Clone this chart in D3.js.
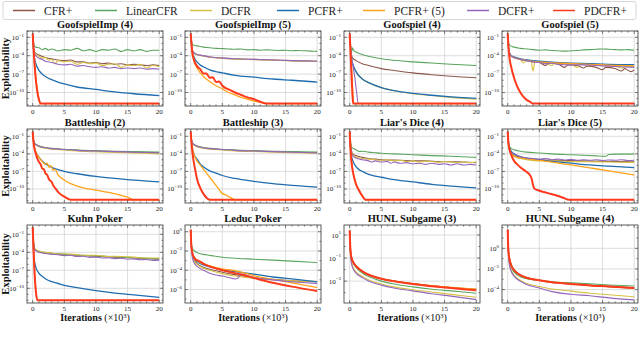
<!DOCTYPE html>
<html>
<head>
<meta charset="utf-8">
<script src="https://cdn.jsdelivr.net/npm/d3@7"></script>
<style>
  body { margin: 0; background: #fff; }
  svg { display: block; font-family: "Liberation Serif", "DejaVu Serif", serif; }
</style>
</head>
<body>
<svg id="chart" width="640" height="337"></svg>
<script>
// values are log10(exploitability), x in thousands of iterations
const seriesNames = ["CFR+", "LinearCFR", "DCFR", "PCFR+", "PCFR+ (5)", "DCFR+", "PDCFR+"];
const xTicks = [0, 5, 10, 15, 20];
const titles = ["GoofspielImp (4)", "GoofspielImp (5)", "Goofspiel (4)", "Goofspiel (5)",
  "Battleship (2)", "Battleship (3)", "Liar's Dice (4)", "Liar's Dice (5)",
  "Kuhn Poker", "Leduc Poker", "HUNL Subgame (3)", "HUNL Subgame (4)"];
const yTicks = [[-1, -4, -7, -10], [-1, -4, -7, -10], [-1, -4, -7, -10], [-1, -4, -7, -10],
  [-1, -4, -7, -10], [-1, -4, -7, -10], [-1, -4, -7, -10], [-1, -4, -7, -10],
  [-1, -4, -7, -10], [0, -2, -4, -6], [1, -1, -3], [0, -2, -4]];

const goofImp4 = {
  "CFR+": [[0,-0.4],[0.2,-3.2],[0.5,-3.6],[1,-3.9],[1.5,-4.1],[2,-4.3],[3,-4.5],[4,-4.7],[5,-4.8],[6,-4.7],[7,-5.0],[8,-5.0],[9,-5.2],[10,-5.1],[11,-5.3],[12,-5.2],[13,-5.4],[14,-5.3],[15,-5.5],[16,-5.4],[17,-5.5],[18,-5.6],[19,-5.5],[20,-5.6]],
  "LinearCFR": [[0,-0.4],[0.2,-2.2],[0.5,-2.6],[1,-2.7],[1.5,-3.0],[2,-2.8],[2.5,-3.1],[3,-2.9],[4,-3.2],[5,-3.0],[6,-3.1],[7,-2.8],[8,-3.2],[9,-3.0],[10,-3.3],[11,-3.0],[12,-3.1],[13,-2.9],[14,-3.3],[15,-3.0],[16,-3.2],[17,-3.0],[18,-3.3],[19,-3.1],[20,-3.1]],
  "DCFR": [[0,-0.4],[0.2,-3.3],[0.5,-3.8],[1,-4.1],[1.5,-4.4],[2,-4.3],[2.5,-4.7],[3,-4.6],[3.5,-5.3],[4,-4.8],[5,-5.0],[6,-4.9],[7,-5.4],[8,-5.1],[9,-5.3],[10,-5.2],[11,-5.6],[12,-5.4],[13,-5.3],[14,-5.9],[15,-5.5],[16,-5.6],[17,-5.4],[18,-6.0],[19,-5.6],[20,-5.8]],
  "PCFR+": [[0,-0.4],[0.1,-2.5],[0.25,-4.2],[0.5,-5.3],[1,-6.4],[1.5,-7.0],[2,-7.4],[3,-7.9],[4,-8.3],[5,-8.6],[7,-9.1],[10,-9.5],[13,-9.9],[16,-10.2],[20,-10.5]],
  "PCFR+ (5)": [[0,-0.4],[0.2,-4.0],[0.5,-7.5],[0.8,-10.0],[1.2,-11.8],[20,-11.8]],
  "DCFR+": [[0,-0.4],[0.2,-3.5],[0.5,-4.0],[1,-4.4],[1.5,-4.6],[2,-4.9],[3,-5.1],[4,-5.4],[5,-5.5],[6,-5.4],[7,-5.7],[8,-5.6],[9,-5.8],[10,-5.9],[11,-5.8],[12,-6.0],[13,-5.9],[14,-6.1],[15,-6.0],[16,-6.1],[17,-6.0],[18,-6.2],[19,-6.1],[20,-6.2]],
  "PDCFR+": [[0,-0.4],[0.15,-3.0],[0.3,-5.5],[0.5,-8.0],[0.75,-10.0],[1,-11.2],[1.3,-11.8],[20,-11.8]]
};
const goofImp5 = {
  "CFR+": [[0,-0.4],[0.25,-3.0],[0.5,-3.5],[1,-3.8],[2,-4.0],[3,-4.2],[5,-4.4],[7,-4.5],[10,-4.6],[13,-4.7],[16,-4.8],[20,-4.9]],
  "LinearCFR": [[0,-0.4],[0.2,-1.9],[0.5,-2.3],[1,-2.4],[2,-2.6],[3,-2.7],[4,-2.8],[5,-2.85],[6,-2.9],[7,-2.95],[8,-2.9],[9,-3.05],[10,-3.0],[11,-3.1],[12,-3.05],[13,-3.1],[14,-3.15],[15,-3.1],[16,-3.2],[17,-3.15],[18,-3.2],[19,-3.25],[20,-3.3]],
  "DCFR": [[0,-0.4],[0.25,-3.1],[0.5,-3.6],[1,-3.85],[2,-4.05],[3,-4.25],[5,-4.45],[7,-4.55],[10,-4.65],[13,-4.75],[16,-4.85],[20,-4.95]],
  "PCFR+": [[0,-0.4],[0.1,-2.0],[0.25,-3.4],[0.5,-4.2],[1,-5.0],[1.5,-5.5],[2,-5.8],[3,-6.3],[4,-6.6],[5,-6.8],[7,-7.2],[10,-7.5],[13,-7.8],[16,-8.0],[20,-8.3]],
  "PCFR+ (5)": [[0,-0.4],[0.25,-3.5],[0.5,-4.8],[1,-6.0],[2,-7.4],[3,-8.2],[4,-8.9],[5,-9.4],[6,-10.0],[7,-10.4],[8,-10.8],[9,-11.1],[10,-11.4],[11,-11.6],[12,-11.8],[20,-11.8]],
  "DCFR+": [[0,-0.4],[0.25,-3.1],[0.5,-3.5],[1,-3.8],[2,-4.0],[3,-4.2],[5,-4.4],[7,-4.5],[10,-4.6],[13,-4.7],[16,-4.8],[20,-4.9]],
  "PDCFR+": [[0,-0.4],[0.25,-3.4],[0.5,-4.6],[1,-5.7],[1.5,-6.2],[2,-6.9],[2.5,-6.9],[3,-7.6],[3.5,-7.5],[4,-8.3],[4.5,-8.2],[5,-8.9],[6,-9.5],[7,-10.0],[8,-10.4],[9,-10.8],[10,-11.1],[11,-11.5],[12,-11.8],[20,-11.8]]
};
const goof4 = {
  "CFR+": [[0,-0.4],[0.15,-2.5],[0.3,-4.0],[0.5,-4.4],[1,-4.8],[2,-5.3],[3,-5.6],[5,-6.1],[7,-6.4],[10,-6.8],[13,-7.1],[16,-7.35],[20,-7.6]],
  "LinearCFR": [[0,-0.4],[0.2,-2.8],[0.35,-3.2],[0.45,-2.7],[0.6,-3.1],[1,-3.4],[2,-3.8],[3,-4.1],[5,-4.5],[7,-4.75],[10,-5.0],[13,-5.2],[16,-5.4],[20,-5.6]],
  "DCFR": [[0,-0.4],[0.15,-3.0],[0.3,-4.6],[0.5,-5.4],[1,-6.6],[2,-7.8],[3,-8.4],[5,-9.2],[7,-9.7],[10,-10.2],[13,-10.5],[16,-10.8],[20,-11.1]],
  "PCFR+": [[0,-0.4],[0.15,-3.0],[0.3,-4.6],[0.5,-5.4],[1,-6.6],[2,-7.8],[3,-8.4],[5,-9.2],[7,-9.7],[10,-10.15],[13,-10.45],[16,-10.7],[20,-10.95]],
  "PCFR+ (5)": [[0,-0.4],[0.2,-4.0],[0.4,-8.0],[0.6,-11.8],[20,-11.8]],
  "DCFR+": [[0,-0.4],[0.2,-3.5],[0.5,-5.5],[0.8,-7.5],[1.1,-10.0],[1.35,-11.8],[20,-11.8]],
  "PDCFR+": [[0,-0.4],[0.15,-4.0],[0.3,-7.5],[0.45,-10.5],[0.55,-11.8],[20,-11.8]]
};
const goof5 = {
  "CFR+": [[0,-0.4],[0.2,-3.3],[0.5,-4.0],[1,-4.3],[2,-4.6],[3,-4.8],[4,-5.0],[5,-5.1],[6,-5.6],[6.5,-5.2],[8,-5.4],[9,-5.9],[9.5,-5.5],[11,-5.6],[12,-6.0],[12.5,-5.7],[14,-5.9],[15,-6.3],[15.5,-5.9],[17,-6.1],[18,-6.5],[18.5,-6.1],[19.5,-6.6],[20,-6.3]],
  "LinearCFR": [[0,-0.4],[0.2,-2.1],[0.5,-2.4],[1,-2.6],[2,-2.8],[3,-2.9],[4,-3.0],[5,-3.1],[6,-3.05],[7,-3.15],[8,-3.2],[9,-3.25],[10,-3.2],[11,-3.15],[12,-3.05],[13,-3.0],[14,-2.95],[15,-2.9],[16,-2.95],[17,-3.0],[18,-3.05],[19,-3.0],[20,-3.1]],
  "DCFR": [[0,-0.4],[0.2,-3.3],[0.5,-4.0],[1,-4.3],[2,-4.6],[2.5,-5.2],[3,-4.7],[3.7,-4.9],[4,-6.5],[4.3,-5.0],[5,-5.1],[6,-5.2],[7,-5.6],[7.5,-5.2],[9,-5.3],[10,-5.4],[11,-5.9],[11.5,-5.4],[13,-5.5],[15,-5.6],[17,-5.7],[18,-6.0],[19,-5.7],[20,-5.8]],
  "PCFR+": [[0,-0.4],[0.2,-3.2],[0.5,-3.9],[1,-4.2],[2,-4.5],[3,-4.7],[5,-4.9],[7,-5.05],[10,-5.2],[13,-5.3],[16,-5.4],[20,-5.45]],
  "PCFR+ (5)": [[0,-0.4],[0.2,-3.3],[0.5,-4.0],[1,-4.3],[2,-4.6],[3,-4.8],[5,-5.0],[7,-5.15],[10,-5.3],[13,-5.4],[16,-5.55],[20,-5.65]],
  "DCFR+": [[0,-0.4],[0.2,-3.2],[0.5,-4.0],[1,-4.3],[2,-4.6],[3,-4.8],[4,-5.0],[5,-5.1],[6,-5.3],[7,-5.2],[8,-5.4],[10,-5.5],[12,-5.5],[14,-5.6],[16,-5.7],[18,-5.8],[20,-5.9]],
  "PDCFR+": [[0,-0.4],[0.15,-3.0],[0.3,-4.5],[0.5,-5.6],[1,-7.6],[1.5,-9.0],[2,-10.0],[2.5,-10.7],[3,-11.2],[3.5,-11.5],[4,-11.8],[20,-11.8]]
};
const battle2 = {
  "CFR+": [[0,-0.2],[0.15,-1.8],[0.3,-2.2],[0.5,-2.4],[1,-2.7],[2,-2.95],[3,-3.1],[5,-3.25],[7,-3.4],[10,-3.5],[13,-3.6],[16,-3.7],[20,-3.8]],
  "LinearCFR": [[0,-0.2],[0.15,-1.8],[0.3,-2.2],[0.5,-2.4],[1,-2.65],[2,-2.9],[3,-3.05],[5,-3.2],[7,-3.35],[10,-3.45],[13,-3.55],[16,-3.62],[20,-3.7]],
  "DCFR": [[0,-0.2],[0.15,-1.9],[0.3,-2.3],[0.5,-2.5],[1,-2.8],[2,-3.05],[3,-3.2],[5,-3.35],[7,-3.5],[10,-3.65],[13,-3.75],[16,-3.85],[20,-4.0]],
  "PCFR+": [[0,-0.2],[0.15,-2.0],[0.3,-3.0],[0.5,-3.7],[1,-4.6],[1.5,-5.2],[2,-5.7],[3,-6.3],[4,-6.7],[5,-7.0],[7,-7.4],[10,-7.85],[13,-8.2],[16,-8.5],[20,-8.8]],
  "PCFR+ (5)": [[0,-0.2],[0.15,-2.0],[0.3,-3.0],[0.5,-3.7],[1,-4.6],[1.5,-5.3],[2,-5.8],[2.3,-5.6],[2.6,-6.3],[2.9,-6.0],[3.2,-6.8],[3.5,-6.6],[4,-7.6],[4.5,-8.1],[5,-8.5],[6,-9.1],[7,-9.5],[8,-9.8],[10,-10.2],[12,-10.6],[14,-11.1],[15,-11.4],[16,-11.85],[20,-11.85]],
  "DCFR+": [[0,-0.2],[0.15,-1.8],[0.3,-2.2],[0.5,-2.4],[1,-2.7],[2,-2.95],[3,-3.1],[5,-3.25],[7,-3.4],[10,-3.52],[13,-3.62],[16,-3.72],[20,-3.85]],
  "PDCFR+": [[0,-0.2],[0.15,-2.2],[0.3,-3.2],[0.5,-4.0],[0.8,-5.0],[1,-5.4],[1.3,-5.9],[1.5,-6.5],[1.8,-6.7],[2,-7.3],[2.3,-7.6],[2.6,-8.4],[3,-8.8],[3.3,-9.5],[3.6,-9.9],[4,-10.5],[4.5,-11.0],[5,-11.3],[6,-11.85],[20,-11.85]]
};
const battle3 = {
  "CFR+": [[0,-0.2],[0.15,-1.8],[0.3,-2.2],[0.5,-2.4],[1,-2.7],[2,-2.95],[3,-3.1],[5,-3.25],[7,-3.4],[10,-3.5],[13,-3.6],[16,-3.7],[20,-3.8]],
  "LinearCFR": [[0,-0.2],[0.15,-1.8],[0.3,-2.2],[0.5,-2.4],[1,-2.65],[2,-2.9],[3,-3.05],[5,-3.2],[7,-3.35],[10,-3.45],[13,-3.55],[16,-3.62],[20,-3.7]],
  "DCFR": [[0,-0.2],[0.15,-1.9],[0.3,-2.3],[0.5,-2.5],[1,-2.8],[2,-3.05],[3,-3.2],[5,-3.35],[7,-3.5],[10,-3.6],[13,-3.7],[16,-3.8],[20,-3.9]],
  "PCFR+": [[0,-0.2],[0.15,-2.0],[0.3,-3.2],[0.5,-4.0],[1,-4.9],[1.5,-5.7],[2,-6.2],[3,-6.9],[4,-7.3],[5,-7.7],[7,-8.2],[10,-8.7],[13,-9.1],[16,-9.4],[20,-9.7]],
  "PCFR+ (5)": [[0,-0.2],[0.2,-2.5],[0.5,-4.0],[1,-5.2],[1.5,-5.9],[2,-6.6],[2.5,-7.3],[3,-8.0],[3.5,-8.7],[4,-9.4],[4.5,-10.1],[5,-10.8],[5.5,-11.0],[6,-11.3],[6.5,-11.6],[7,-11.85],[20,-11.85]],
  "DCFR+": [[0,-0.2],[0.15,-1.8],[0.3,-2.2],[0.5,-2.4],[1,-2.7],[2,-2.95],[3,-3.1],[5,-3.25],[7,-3.4],[10,-3.52],[13,-3.62],[16,-3.72],[20,-3.85]],
  "PDCFR+": [[0,-0.2],[0.15,-2.5],[0.3,-4.0],[0.5,-5.5],[0.8,-7.2],[1,-8.3],[1.5,-9.8],[2,-10.8],[2.5,-11.5],[3,-11.85],[20,-11.85]]
};
const liars4 = {
  "CFR+": [[0,-0.2],[0.2,-3.0],[0.5,-4.0],[1,-4.3],[2,-4.6],[3,-4.8],[4,-4.9],[5,-5.0],[6,-5.05],[8,-5.1],[10,-5.2],[12,-5.2],[14,-5.3],[16,-5.35],[18,-5.4],[20,-5.5]],
  "LinearCFR": [[0,-0.2],[0.15,-2.0],[0.3,-2.9],[0.6,-3.1],[1,-3.3],[1.5,-3.6],[2,-3.55],[3,-3.7],[4,-3.8],[5,-3.9],[7,-4.0],[10,-4.15],[13,-4.3],[16,-4.4],[20,-4.6]],
  "DCFR": [[0,-0.2],[0.2,-3.2],[0.5,-4.2],[1,-4.5],[2,-4.8],[3,-4.9],[4,-5.0],[5,-5.1],[6,-5.0],[7,-5.2],[8,-5.1],[9,-5.3],[10,-5.2],[11,-5.4],[12,-5.25],[13,-5.3],[14,-5.45],[15,-5.3],[16,-5.4],[17,-5.5],[18,-5.35],[19,-5.5],[20,-5.4]],
  "PCFR+": [[0,-0.2],[0.1,-2.5],[0.25,-4.2],[0.5,-5.2],[1,-6.2],[1.5,-6.7],[2,-7.0],[3,-7.5],[4,-7.8],[5,-8.0],[7,-8.4],[10,-8.8],[13,-9.2],[16,-9.5],[20,-9.8]],
  "PCFR+ (5)": [[0,-0.2],[0.15,-3.5],[0.3,-5.5],[0.5,-7.0],[1,-9.2],[1.5,-10.3],[2,-11.2],[2.5,-11.85],[20,-11.85]],
  "DCFR+": [[0,-0.2],[0.2,-3.4],[0.5,-4.4],[1,-4.7],[2,-5.0],[3,-5.2],[3.5,-5.4],[4,-5.2],[5,-5.4],[6,-5.3],[6.5,-5.6],[7,-5.4],[8,-5.6],[9,-5.5],[10,-5.7],[11,-5.6],[12,-5.8],[13,-5.6],[14,-5.8],[15,-5.7],[16,-5.9],[17,-5.7],[18,-5.9],[19,-5.8],[20,-5.9]],
  "PDCFR+": [[0,-0.2],[0.15,-3.5],[0.3,-5.5],[0.5,-7.0],[1,-9.2],[1.5,-10.3],[2,-11.2],[2.5,-11.85],[20,-11.85]]
};
const liars5 = {
  "CFR+": [[0,-0.2],[0.2,-3.0],[0.5,-3.7],[1,-4.1],[2,-4.6],[3,-4.8],[5,-5.0],[7,-5.1],[10,-5.15],[13,-5.25],[16,-5.3],[20,-5.35]],
  "LinearCFR": [[0,-0.2],[0.15,-2.2],[0.3,-2.8],[0.6,-3.1],[1,-3.3],[2,-3.55],[3,-3.7],[5,-3.85],[7,-4.0],[10,-4.15],[12,-4.25],[14,-4.35],[15.5,-4.4],[16,-4.1],[17,-4.05],[18,-4.05],[20,-4.0]],
  "DCFR": [[0,-0.2],[0.2,-3.1],[0.5,-3.9],[1,-4.4],[2,-4.8],[3,-5.0],[5,-5.2],[7,-5.2],[10,-5.3],[13,-5.35],[16,-5.4],[20,-5.45]],
  "PCFR+": [[0,-0.2],[0.15,-2.3],[0.3,-3.0],[0.6,-3.6],[1,-4.0],[2,-4.5],[3,-4.75],[5,-5.0],[7,-5.3],[10,-5.6],[13,-5.9],[16,-6.1],[20,-6.35]],
  "PCFR+ (5)": [[0,-0.2],[0.15,-2.5],[0.3,-3.3],[0.6,-4.0],[1,-4.4],[2,-4.7],[3,-4.85],[5,-5.1],[7,-5.4],[10,-5.9],[13,-6.4],[16,-6.9],[20,-7.6]],
  "DCFR+": [[0,-0.2],[0.2,-2.9],[0.5,-3.6],[1,-4.0],[2,-4.5],[3,-4.7],[4,-4.8],[5,-4.9],[6,-4.8],[7,-5.0],[8,-4.9],[9,-5.05],[10,-4.95],[11,-5.1],[12,-5.0],[13,-5.1],[14,-5.0],[15,-5.15],[16,-5.05],[17,-5.1],[18,-5.0],[19,-5.15],[20,-5.1]],
  "PDCFR+": [[0,-0.2],[0.15,-2.5],[0.3,-3.3],[0.6,-4.3],[1,-5.2],[1.5,-5.8],[2,-6.3],[2.5,-6.7],[3,-7.1],[3.5,-7.6],[3.8,-8.3],[4,-9.3],[4.2,-9.9],[5,-10.3],[6,-10.6],[7,-10.9],[8,-11.2],[9,-11.6],[9.6,-11.85],[20,-11.85]]
};
const kuhn = {
  "CFR+": [[0,0.2],[0.15,-2.5],[0.3,-3.4],[0.6,-3.7],[1,-3.9],[2,-4.1],[3,-4.2],[5,-4.35],[7,-4.5],[10,-4.65],[13,-4.8],[16,-4.95],[20,-5.15]],
  "LinearCFR": [[0,0.2],[0.15,-2.5],[0.3,-3.4],[0.6,-3.7],[1,-3.9],[2,-4.1],[3,-4.2],[5,-4.35],[7,-4.45],[10,-4.6],[13,-4.75],[16,-4.9],[20,-5.1]],
  "DCFR": [[0,0.2],[0.15,-2.4],[0.3,-3.3],[0.6,-3.6],[1,-3.8],[2,-4.0],[3,-4.1],[4,-4.3],[5,-4.25],[7,-4.4],[8,-4.5],[10,-4.5],[12,-4.7],[13,-4.65],[16,-4.8],[18,-4.95],[20,-4.95]],
  "PCFR+": [[0,0.2],[0.1,-3.0],[0.25,-5.3],[0.5,-6.5],[1,-7.5],[1.5,-8.0],[2,-8.4],[3,-8.9],[4,-9.2],[5,-9.5],[7,-9.9],[10,-10.4],[13,-10.8],[16,-11.1],[20,-11.5]],
  "PCFR+ (5)": [[0,0.2],[0.15,-4.0],[0.3,-7.5],[0.5,-10.5],[0.75,-12.0],[20,-12.0]],
  "DCFR+": [[0,0.2],[0.15,-2.6],[0.3,-3.5],[0.6,-3.8],[1,-4.0],[2,-4.2],[3,-4.35],[4,-4.4],[5,-4.55],[6,-4.5],[7,-4.7],[8,-4.65],[9,-4.85],[10,-4.8],[11,-4.95],[12,-4.9],[13,-5.05],[14,-5.0],[15,-5.15],[16,-5.1],[17,-5.25],[18,-5.2],[19,-5.35],[20,-5.3]],
  "PDCFR+": [[0,0.2],[0.15,-4.0],[0.3,-7.5],[0.5,-10.5],[0.75,-12.0],[20,-12.0]]
};
const leduc = {
  "CFR+": [[0,0.2],[0.1,-1.5],[0.3,-2.5],[0.6,-3.0],[1,-3.3],[2,-3.7],[3,-3.9],[5,-4.2],[7,-4.45],[10,-4.75],[13,-4.95],[16,-5.1],[20,-5.2]],
  "LinearCFR": [[0,0.2],[0.1,-1.2],[0.3,-1.8],[0.6,-2.0],[1,-2.15],[2,-2.35],[3,-2.45],[5,-2.65],[7,-2.75],[10,-2.85],[13,-2.95],[16,-3.05],[20,-3.2]],
  "DCFR": [[0,0.2],[0.1,-1.5],[0.3,-2.6],[0.6,-3.1],[1,-3.4],[2,-3.8],[3,-4.0],[5,-4.35],[7,-4.6],[10,-4.85],[13,-5.0],[16,-5.1],[20,-5.15]],
  "PCFR+": [[0,0.2],[0.1,-1.4],[0.3,-2.4],[0.6,-2.8],[1,-3.1],[2,-3.45],[3,-3.65],[5,-3.95],[7,-4.15],[10,-4.4],[13,-4.7],[16,-4.9],[20,-5.2]],
  "PCFR+ (5)": [[0,0.2],[0.1,-1.4],[0.3,-2.3],[0.6,-2.7],[1,-3.0],[2,-3.35],[3,-3.55],[5,-3.85],[7,-4.05],[8,-4.2],[10,-4.55],[13,-4.95],[16,-5.3],[20,-5.8]],
  "DCFR+": [[0,0.2],[0.1,-1.6],[0.3,-2.8],[0.6,-3.3],[1,-3.6],[2,-4.0],[3,-4.3],[4,-4.5],[5,-4.6],[6,-4.75],[7,-4.9],[7.5,-4.8],[8,-4.4],[9,-4.55],[10,-4.75],[13,-5.0],[16,-5.2],[20,-5.4]],
  "PDCFR+": [[0,0.2],[0.1,-1.4],[0.3,-2.3],[0.5,-2.6],[0.8,-2.9],[1,-2.95],[1.5,-3.1],[2,-3.3],[3,-3.6],[5,-4.0],[7,-4.3],[8,-4.45],[10,-4.8],[13,-5.3],[16,-5.7],[20,-6.15]]
};
const hunl3 = {
  "CFR+": [[0,1.4],[0.05,0.5],[0.15,-0.5],[0.3,-1.0],[0.6,-1.4],[1,-1.7],[1.5,-1.95],[2,-2.15],[3,-2.45],[4,-2.65],[5,-2.8],[7,-3.0],[10,-3.22],[13,-3.4],[16,-3.55],[20,-3.72]],
  "LinearCFR": [[0,1.4],[0.05,0.4],[0.15,-0.6],[0.3,-1.1],[0.6,-1.5],[1,-1.8],[2,-2.3],[3,-2.6],[5,-3.0],[7,-3.25],[10,-3.5],[13,-3.7],[16,-3.85],[20,-4.05]],
  "DCFR": [[0,1.4],[0.05,0.3],[0.15,-0.8],[0.3,-1.4],[0.6,-1.9],[1,-2.2],[2,-2.6],[3,-2.9],[5,-3.25],[7,-3.5],[10,-3.75],[13,-3.95],[16,-4.15],[20,-4.4]],
  "PCFR+": [[0,1.4],[0.05,0.5],[0.15,-0.5],[0.3,-1.0],[0.6,-1.4],[1,-1.7],[1.5,-1.95],[2,-2.15],[3,-2.45],[4,-2.65],[5,-2.8],[7,-3.0],[10,-3.24],[13,-3.42],[16,-3.58],[20,-3.76]],
  "PCFR+ (5)": [[0,1.4],[0.05,0.5],[0.15,-0.5],[0.3,-1.0],[0.6,-1.4],[1,-1.7],[1.5,-1.95],[2,-2.15],[3,-2.45],[4,-2.65],[5,-2.8],[7,-3.0],[10,-3.22],[13,-3.4],[16,-3.55],[20,-3.7]],
  "DCFR+": [[0,1.4],[0.05,0.3],[0.15,-0.9],[0.3,-1.5],[0.6,-2.0],[1,-2.3],[2,-2.7],[3,-3.0],[5,-3.35],[7,-3.6],[10,-3.85],[13,-4.1],[16,-4.3],[20,-4.6]],
  "PDCFR+": [[0,1.4],[0.05,0.5],[0.15,-0.5],[0.3,-1.0],[0.6,-1.4],[1,-1.7],[1.5,-1.95],[2,-2.15],[3,-2.45],[4,-2.65],[5,-2.8],[7,-3.02],[10,-3.25],[13,-3.45],[16,-3.6],[20,-3.8]]
};
const hunl4 = {
  "CFR+": [[0,1.8],[0.05,0.6],[0.15,-0.5],[0.3,-1.1],[0.6,-1.7],[1,-2.1],[1.5,-2.4],[2,-2.6],[3,-2.85],[4,-3.0],[5,-3.1],[7,-3.3],[10,-3.45],[13,-3.6],[16,-3.7],[20,-3.85]],
  "LinearCFR": [[0,1.8],[0.05,0.5],[0.15,-0.6],[0.3,-1.3],[0.6,-1.9],[1,-2.3],[2,-2.75],[3,-2.95],[5,-3.1],[7,-3.25],[10,-3.35],[13,-3.45],[16,-3.55],[20,-3.65]],
  "DCFR": [[0,1.8],[0.05,0.4],[0.15,-0.8],[0.3,-1.6],[0.6,-2.2],[1,-2.6],[2,-3.1],[3,-3.4],[5,-3.7],[7,-3.95],[10,-4.15],[13,-4.35],[16,-4.5],[20,-4.7]],
  "PCFR+": [[0,1.8],[0.05,0.6],[0.15,-0.5],[0.3,-1.1],[0.6,-1.7],[1,-2.1],[1.5,-2.4],[2,-2.6],[3,-2.85],[4,-3.0],[5,-3.1],[7,-3.3],[10,-3.45],[13,-3.6],[16,-3.7],[20,-3.85]],
  "PCFR+ (5)": [[0,1.8],[0.05,0.6],[0.15,-0.5],[0.3,-1.1],[0.6,-1.7],[1,-2.1],[1.5,-2.4],[2,-2.6],[3,-2.85],[4,-3.0],[5,-3.1],[7,-3.3],[10,-3.45],[13,-3.6],[16,-3.7],[20,-3.85]],
  "DCFR+": [[0,1.8],[0.05,0.4],[0.15,-0.9],[0.3,-1.7],[0.6,-2.3],[1,-2.7],[2,-3.2],[3,-3.5],[5,-3.85],[7,-4.2],[10,-4.45],[13,-4.6],[16,-4.8],[20,-5.0]],
  "PDCFR+": [[0,1.8],[0.05,0.6],[0.15,-0.5],[0.3,-1.1],[0.6,-1.7],[1,-2.1],[1.5,-2.4],[2,-2.6],[3,-2.85],[4,-3.0],[5,-3.1],[7,-3.3],[10,-3.45],[13,-3.6],[16,-3.7],[20,-3.85]]
};
const panelData = [goofImp4, goofImp5, goof4, goof5, battle2, battle3, liars4, liars5, kuhn, leduc, hunl3, hunl4];

// layout
const colors = ["#8c564b", "#5aa55e", "#d6c043", "#1f6db0", "#ffa31a", "#9467bd", "#ff3a1c"];
const widths = [1.1, 1.1, 1.1, 1.3, 1.3, 1.1, 2];
const colLeft = [27, 185, 344, 502];
const rowTop = [31, 129, 225];
const rowH = [75, 74, 78];
const plotW = 136;
// y extent in decades (bottom, top) per panel
const yExtent = [[-12.2, 0.03], [-12.2, 0.03], [-12.2, 0.03], [-12.2, 0.03],
  [-12.4, 0.25], [-12.4, 0.25], [-12.4, 0.25], [-12.4, 0.25],
  [-12.45, 0.55], [-7.4, 0.7], [-4.9, 1.87], [-5.3, 2.26]];

const svg = d3.select('#chart');
svg.append('rect').attr('width', 640).attr('height', 337).attr('fill', '#fff');

const supers = { '-': '\u2212', '0': '0', '1': '1', '2': '2', '3': '3', '4': '4', '5': '5', '6': '6', '7': '7', '8': '8', '9': '9' };

panelData.forEach((data, i) => {
    const r = Math.floor(i / 4), c = i % 4;
    const h = rowH[r];
    const g = svg.append('g').attr('transform', 'translate(' + colLeft[c] + ',' + rowTop[r] + ')');

    const x = d3.scaleLinear().domain([-0.9, 20.6]).range([0, plotW]);
    const y = d3.scaleLog().domain([Math.pow(10, yExtent[i][0]), Math.pow(10, yExtent[i][1])]).range([h, 0]);

    // grid
    g.append('g').selectAll('line').data(xTicks).enter().append('line')
        .attr('x1', d => x(d)).attr('x2', d => x(d)).attr('y1', 0).attr('y2', h)
        .attr('stroke', '#cfcfcf').attr('stroke-width', 0.7);
    g.append('g').selectAll('line').data(yTicks[i]).enter().append('line')
        .attr('y1', d => y(Math.pow(10, d))).attr('y2', d => y(Math.pow(10, d))).attr('x1', 0).attr('x2', plotW)
        .attr('stroke', '#cfcfcf').attr('stroke-width', 0.7);

    // lines
    const clipId = 'clip' + i;
    g.append('clipPath').attr('id', clipId).append('rect').attr('width', plotW).attr('height', h);
    const line = d3.line().x(d => x(d[0])).y(d => y(Math.pow(10, d[1]))).curve(d3.curveMonotoneX);
    const lg = g.append('g').attr('clip-path', 'url(#' + clipId + ')');
    seriesNames.forEach((name, k) => {
        lg.append('path').datum(data[name]).attr('d', line)
            .attr('fill', 'none').attr('stroke', colors[k]).attr('stroke-width', widths[k])
            .attr('stroke-linejoin', 'round');
    });

    // frame
    g.append('rect').attr('width', plotW).attr('height', h).attr('fill', 'none')
        .attr('stroke', '#333').attr('stroke-width', 0.8);

    // x ticks (inside, major + minor, mirrored on top)
    const xAxis = g.append('g').attr('class', 'xaxis');
    d3.range(0, 21).forEach(v => {
        const len = v % 5 === 0 ? 3 : 1.6;
        xAxis.append('line').attr('x1', x(v)).attr('x2', x(v)).attr('y1', h).attr('y2', h - len).attr('stroke', '#333').attr('stroke-width', 0.6);
        xAxis.append('line').attr('x1', x(v)).attr('x2', x(v)).attr('y1', 0).attr('y2', len).attr('stroke', '#333').attr('stroke-width', 0.6);
    });
    xAxis.selectAll('text').data(xTicks).enter().append('text')
        .attr('x', d => x(d)).attr('y', h + 7.5).attr('text-anchor', 'middle')
        .attr('font-size', 7).attr('fill', '#222').text(d => d);

    // y ticks
    const yAxis = g.append('g').attr('class', 'yaxis');
    d3.range(Math.ceil(yExtent[i][0]), Math.floor(yExtent[i][1]) + 1).forEach(v => {
        const major = yTicks[i].indexOf(v) >= 0;
        const len = major ? 3 : 1.6;
        const yy = y(Math.pow(10, v));
        yAxis.append('line').attr('x1', 0).attr('x2', len).attr('y1', yy).attr('y2', yy).attr('stroke', '#333').attr('stroke-width', 0.6);
        yAxis.append('line').attr('x1', plotW).attr('x2', plotW - len).attr('y1', yy).attr('y2', yy).attr('stroke', '#333').attr('stroke-width', 0.6);
    });
    yTicks[i].forEach(v => {
        const t = yAxis.append('text').attr('x', -3).attr('y', y(Math.pow(10, v)) + 2.5)
            .attr('text-anchor', 'end').attr('font-size', 7).attr('fill', '#222');
        t.append('tspan').text('10');
        t.append('tspan').attr('dy', -3.2).attr('font-size', 5)
            .text(String(v).split('').map(ch => supers[ch]).join(''));
    });

    // title
    g.append('text').attr('x', plotW / 2).attr('y', -3).attr('text-anchor', 'middle')
        .attr('font-size', 10.5).attr('font-weight', 'bold').attr('fill', '#111').text(titles[i]);

    // x label on bottom row
    if (r === 2) {
        const xl = g.append('text').attr('x', plotW / 2).attr('y', h + 18).attr('text-anchor', 'middle')
            .attr('font-size', 10).attr('fill', '#111');
        xl.append('tspan').attr('font-weight', 'bold').text('Iterations');
        xl.append('tspan').text(' (\u00d710');
        xl.append('tspan').attr('dy', -3.5).attr('font-size', 6.5).text('3');
        xl.append('tspan').attr('dy', 3.5).text(')');
    }
});

// y labels
rowTop.forEach((t, r) => {
    svg.append('text').attr('transform', 'translate(8.5,' + (t + rowH[r] / 2) + ') rotate(-90)')
        .attr('text-anchor', 'middle').attr('font-size', 10.5).attr('font-weight', 'bold')
        .attr('fill', '#111').text('Exploitability');
});

// legend
const legend = svg.append('g');
legend.append('rect').attr('x', 3).attr('y', 1.5).attr('width', 633).attr('height', 18).attr('rx', 2)
    .attr('fill', '#fff').attr('stroke', '#cccccc').attr('stroke-width', 0.8);
const legendX = [13, 95, 190, 277, 363, 467, 553];
seriesNames.forEach((name, k) => {
    legend.append('line').attr('x1', legendX[k]).attr('x2', legendX[k] + 22).attr('y1', 10.5).attr('y2', 10.5)
        .attr('stroke', colors[k]).attr('stroke-width', 1.5);
    legend.append('text').attr('x', legendX[k] + 31).attr('y', 14.5).attr('font-size', 11.5)
        .attr('fill', '#222').text(name);
});
</script>
</body>
</html>
